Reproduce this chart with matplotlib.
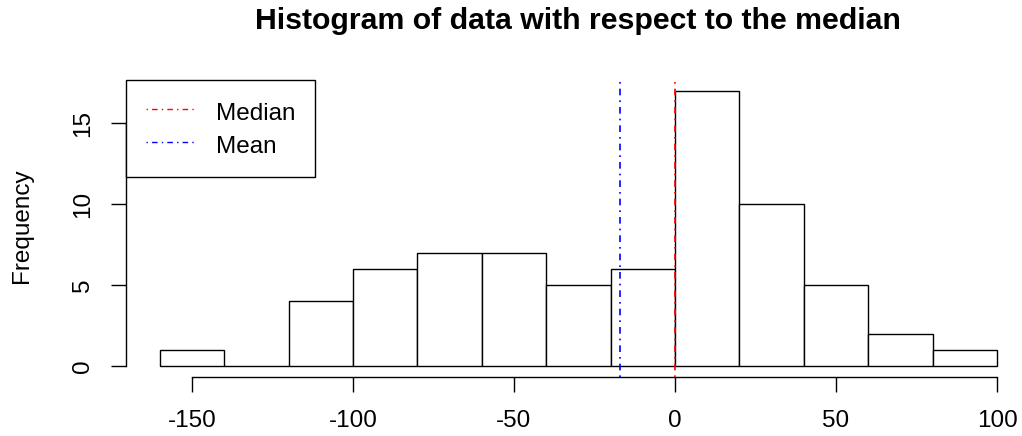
import matplotlib
matplotlib.use("Agg")
import matplotlib.pyplot as plt

# Histogram bins and counts
bin_edges = [-160, -140, -120, -100, -80, -60, -40, -20, 0, 20, 40, 60, 80, 100]
counts = [1, 0, 4, 6, 7, 7, 5, 6, 17, 10, 5, 2, 1]
median_value = 0
mean_value = -17
x_ticks = [-150, -100, -50, 0, 50, 100]
y_ticks = [0, 5, 10, 15]

plt.rcParams['font.family'] = ['Liberation Sans', 'DejaVu Sans']
FS = 17.5

W, H = 1022, 436
fig = plt.figure(figsize=(W / 100, H / 100), dpi=100)

# plot region in pixels (axis ranges padded by 4% on each side)
lo, hi = bin_edges[0], bin_edges[-1]
ext = 0.04 * (hi - lo)
ymax = max(counts)
left_px, right_px = 126.3, 1030.5
top_px, bottom_px = 79.6, 377.0
ax = fig.add_axes([left_px / W, 1 - bottom_px / H,
                   (right_px - left_px) / W, (bottom_px - top_px) / H])
ax.set_xlim(lo - ext, hi + ext)
ax.set_ylim(-0.04 * ymax, ymax * 1.04)

centers = [(a + b) / 2 for a, b in zip(bin_edges[:-1], bin_edges[1:])]
ax.hist(centers, bins=bin_edges, weights=counts, facecolor='white',
        edgecolor='black', linewidth=1.0)

dash = (0, (1, 3, 4, 3))
ax.axvline(median_value, color='red', linestyle=dash, linewidth=1.2, zorder=5)
ax.axvline(mean_value, color='blue', linestyle=dash, linewidth=1.2, zorder=5)

for s in ['top', 'right']:
    ax.spines[s].set_visible(False)
ax.spines['bottom'].set_bounds(x_ticks[0], x_ticks[-1])
ax.spines['left'].set_bounds(y_ticks[0], y_ticks[-1])
for s in ['bottom', 'left']:
    ax.spines[s].set_linewidth(1.0)
ax.set_xticks(x_ticks)
ax.set_yticks(y_ticks)
ax.set_xticklabels([str(v) for v in x_ticks])
ax.set_yticklabels([str(v) for v in y_ticks], rotation=90, va='center')
ax.tick_params(axis='both', length=11, width=1.0, labelsize=FS,
               color='black', labelcolor='black')
ax.tick_params(axis='x', pad=12.5)
ax.tick_params(axis='y', pad=12)

fig.text(22 / W, 1 - 226 / H, 'Frequency', rotation=90, ha='center',
         va='center', fontsize=FS)
fig.text((left_px + right_px) / 2 / W, 1 - 21 / H,
         'Histogram of data with respect to the median', ha='center',
         va='center', fontsize=21.8, fontweight='bold')

leg = ax.legend(handles=[
    plt.Line2D([], [], color='red', linestyle=dash, linewidth=1.0),
    plt.Line2D([], [], color='blue', linestyle=dash, linewidth=1.0)],
    labels=['Median', 'Mean'], loc='upper left', bbox_to_anchor=(0, 1),
    borderaxespad=0, fancybox=False, edgecolor='black', framealpha=1,
    fontsize=FS, handlelength=2.0, handletextpad=0.9, borderpad=0.8,
    handleheight=1.2, labelspacing=0.3)
leg.get_frame().set_linewidth(1.0)

fig.savefig('out.png', dpi=100)
